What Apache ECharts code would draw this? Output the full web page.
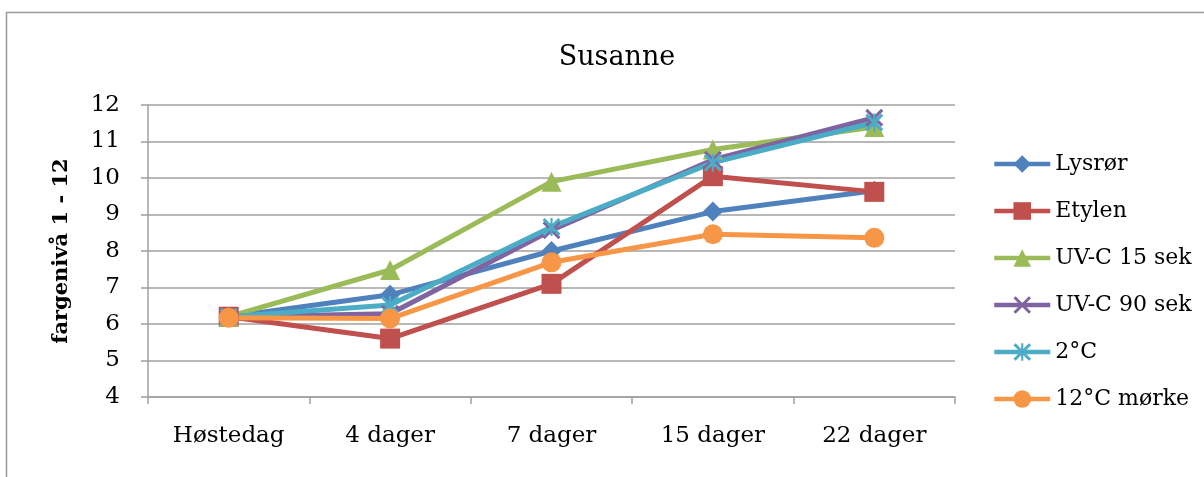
<!DOCTYPE html>
<html>
<head>
<meta charset="utf-8">
<script src="https://cdn.jsdelivr.net/npm/echarts@6/dist/echarts.min.js"></script>
<style>
  html, body { margin: 0; padding: 0; background: #fff; }
  #chart { width: 1204px; height: 477px; }
</style>
</head>
<body>
<div id="chart"></div>
<script>
// Colour level (1-12) over storage time for the variety "Susanne"
const categories = ['Høstedag', '4 dager', '7 dager', '15 dager', '22 dager'];
const lysror    = [6.2, 6.8, 8.0, 9.08, 9.65];
const etylen    = [6.2, 5.6, 7.1, 10.05, 9.62];
const uvc15     = [6.2, 7.48, 9.9, 10.78, 11.4];
const uvc90     = [6.2, 6.28, 8.57, 10.5, 11.65];
const grader2   = [6.2, 6.52, 8.66, 10.42, 11.52];
const morke12   = [6.17, 6.15, 7.69, 8.46, 8.36];
const yTicks    = { min: 4, max: 12, interval: 1 };

const FONT = 'DejaVu Serif';

// custom marker outlines
const crossPath = 'path://M0,1.2 L1.2,0 L10,8.8 L8.8,10 Z M8.8,0 L10,1.2 L1.2,10 L0,8.8 Z';
const starPath  = 'path://M0,1.2 L1.2,0 L10,8.8 L8.8,10 Z M8.8,0 L10,1.2 L1.2,10 L0,8.8 Z M4.4,0 L5.6,0 L5.6,10 L4.4,10 Z';

function line(name, data, color, symbol, size) {
  return {
    name, type: 'line', data,
    symbol, symbolSize: size,
    showAllSymbol: true,
    lineStyle: { color, width: 5 },
    itemStyle: { color },
    emphasis: { disabled: true },
    animation: false
  };
}

const chart = echarts.init(document.getElementById('chart'));
chart.setOption({
  backgroundColor: '#ffffff',
  animation: false,
  title: {
    text: 'Susanne',
    left: 612, top: 39, textAlign: 'center',
    textStyle: { fontFamily: FONT, fontSize: 27, fontWeight: 'normal', color: '#000' }
  },
  graphic: [{
    type: 'rect', silent: true,
    shape: { x: 6.5, y: 12.5, width: 1400, height: 600 },
    style: { fill: 'none', stroke: '#9a9a9a', lineWidth: 1.5 }
  }],
  legend: {
    orient: 'vertical',
    left: 992, top: 153, padding: 0,
    itemWidth: 56, itemHeight: 22, itemGap: 25,
    lineStyle: { width: 4.5 },
    textStyle: { fontFamily: FONT, fontSize: 22, color: '#000' },
    data: ['Lysrør', 'Etylen', 'UV-C 15 sek', 'UV-C 90 sek', '2°C', '12°C mørke']
  },
  grid: { left: 148, right: 249, top: 105, bottom: 80, containLabel: false },
  xAxis: {
    type: 'category', data: categories, boundaryGap: true,
    axisLine: { lineStyle: { color: '#a0a0a0', width: 1.5 } },
    axisTick: { show: true, alignWithLabel: false, length: 7, lineStyle: { color: '#a0a0a0', width: 1.5 } },
    axisLabel: { fontFamily: FONT, fontSize: 23, color: '#000', margin: 28 }
  },
  yAxis: {
    type: 'value', min: yTicks.min, max: yTicks.max, interval: yTicks.interval,
    name: 'fargenivå 1 - 12', nameLocation: 'middle', nameGap: 76, nameRotate: 90,
    nameTextStyle: { fontFamily: FONT, fontSize: 21, fontWeight: 'bold', color: '#000' },
    axisLine: { show: true, lineStyle: { color: '#a0a0a0', width: 1.5 } },
    axisTick: { show: true, length: 7, lineStyle: { color: '#a0a0a0', width: 1.5 } },
    splitLine: { lineStyle: { color: '#a0a0a0', width: 1.5 } },
    axisLabel: { fontFamily: FONT, fontSize: 23, color: '#000', margin: 28 }
  },
  series: [
    line('Lysrør', lysror, '#4F81BD', 'diamond', 20),
    line('Etylen', etylen, '#C0504D', 'rect', 20),
    line('UV-C 15 sek', uvc15, '#9BBB59', 'triangle', 20),
    line('UV-C 90 sek', uvc90, '#8064A2', crossPath, 18),
    line('2°C', grader2, '#4BACC6', starPath, 18),
    line('12°C mørke', morke12, '#F79646', 'circle', 20)
  ]
});
</script>
</body>
</html>
